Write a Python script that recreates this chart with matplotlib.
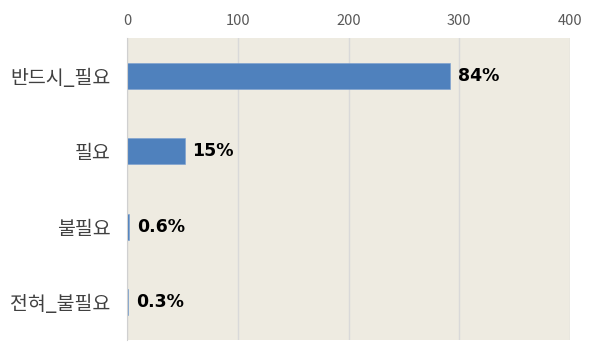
import matplotlib
matplotlib.use("Agg")
import matplotlib.pyplot as plt

plt.rcParams['font.family'] = ['Noto Sans CJK KR', 'DejaVu Sans']

categories = ['반드시_필요', '필요', '불필요', '전혀_불필요']
counts = [292, 52, 2, 1]
pct_labels = ['84%', '15%', '0.6%', '0.3%']
xticks = [0, 100, 200, 300, 400]

fig = plt.figure(figsize=(6, 3.6), dpi=100)
ax = fig.add_axes([0.212, 0.056, 0.738, 0.838])
ax.set_facecolor('#EEEBE1')

ypos = list(range(len(categories)))
ax.barh(ypos, counts, height=0.35, color='#4F81BD', edgecolor='#7A9FD0', linewidth=0.4, zorder=3)

for y, v, t in zip(ypos, counts, pct_labels):
    ax.text(v + 7, y, t, va='center', ha='left', fontsize=12.5, fontweight='bold',
            color='black', family=['DejaVu Sans'], zorder=4)

ax.set_xlim(0, 400)
ax.set_ylim(len(categories) - 0.5, -0.5)
ax.set_yticks(ypos)
ax.set_yticklabels(categories, fontsize=14, color='#404040', fontweight='medium')
ax.set_xticks(xticks)
ax.set_xticklabels([str(x) for x in xticks], fontsize=10.5, color='#595959')
ax.xaxis.tick_top()
ax.tick_params(axis='both', length=0)
ax.tick_params(axis='x', pad=7)
ax.tick_params(axis='y', pad=12)
ax.grid(axis='x', color='#D9D9D9', linewidth=1, zorder=0)
for s in ['top', 'right', 'bottom']:
    ax.spines[s].set_visible(False)
ax.spines['left'].set_color('#D0D0D0')
ax.spines['left'].set_zorder(5)

fig.savefig('out.png', dpi=100, facecolor='white')
